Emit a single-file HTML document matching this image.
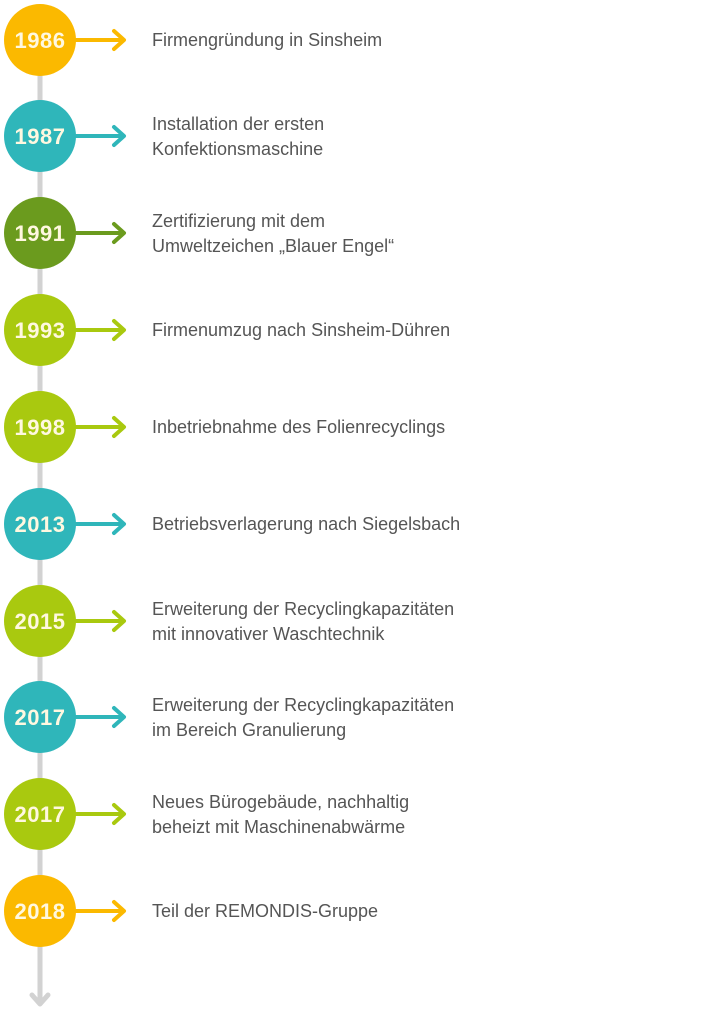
<!DOCTYPE html>
<html><head><meta charset="utf-8"><style>
html,body{margin:0;padding:0;background:#fff;width:710px;height:1010px;overflow:hidden}
svg text{font-family:"Liberation Sans",sans-serif}
.y{font-size:22px;font-weight:bold;fill:#fff8e0;text-anchor:middle;letter-spacing:0.5px}
.t{font-size:18px;fill:#555}
.a{fill:none;stroke-width:4;stroke-linecap:round;stroke-linejoin:round}
</style></head><body>
<svg width="710" height="1010" viewBox="0 0 710 1010" xmlns="http://www.w3.org/2000/svg">
<line x1="40" y1="40" x2="40" y2="1003" stroke="#d2d2d2" stroke-width="5"/>
<polyline points="32,995 40,1004 48,995" fill="none" stroke="#d2d2d2" stroke-width="5" stroke-linecap="round" stroke-linejoin="round"/>

<g transform="translate(0,40)"><circle cx="40" r="36" fill="#fbb900"/><text class="y" x="40" y="8">1986</text><path class="a" stroke="#fbb900" d="M74 0H123M114 -9L124 0L114 9"/><text class="t" x="152" y="6">Firmengründung in Sinsheim</text></g>

<g transform="translate(0,136)"><circle cx="40" r="36" fill="#2fb6ba"/><text class="y" x="40" y="8">1987</text><path class="a" stroke="#2fb6ba" d="M74 0H123M114 -9L124 0L114 9"/><text class="t" x="152" y="-6">Installation der ersten</text><text class="t" x="152" y="19">Konfektionsmaschine</text></g>

<g transform="translate(0,233)"><circle cx="40" r="36" fill="#6b9b1e"/><text class="y" x="40" y="8">1991</text><path class="a" stroke="#6b9b1e" d="M74 0H123M114 -9L124 0L114 9"/><text class="t" x="152" y="-6">Zertifizierung mit dem</text><text class="t" x="152" y="19">Umweltzeichen „Blauer Engel“</text></g>

<g transform="translate(0,330)"><circle cx="40" r="36" fill="#a9c90f"/><text class="y" x="40" y="8">1993</text><path class="a" stroke="#a9c90f" d="M74 0H123M114 -9L124 0L114 9"/><text class="t" x="152" y="6">Firmenumzug nach Sinsheim-Dühren</text></g>

<g transform="translate(0,427)"><circle cx="40" r="36" fill="#a9c90f"/><text class="y" x="40" y="8">1998</text><path class="a" stroke="#a9c90f" d="M74 0H123M114 -9L124 0L114 9"/><text class="t" x="152" y="6">Inbetriebnahme des Folienrecyclings</text></g>

<g transform="translate(0,524)"><circle cx="40" r="36" fill="#2fb6ba"/><text class="y" x="40" y="8">2013</text><path class="a" stroke="#2fb6ba" d="M74 0H123M114 -9L124 0L114 9"/><text class="t" x="152" y="6">Betriebsverlagerung nach Siegelsbach</text></g>

<g transform="translate(0,621)"><circle cx="40" r="36" fill="#a9c90f"/><text class="y" x="40" y="8">2015</text><path class="a" stroke="#a9c90f" d="M74 0H123M114 -9L124 0L114 9"/><text class="t" x="152" y="-6">Erweiterung der Recyclingkapazitäten</text><text class="t" x="152" y="19">mit innovativer Waschtechnik</text></g>

<g transform="translate(0,717)"><circle cx="40" r="36" fill="#2fb6ba"/><text class="y" x="40" y="8">2017</text><path class="a" stroke="#2fb6ba" d="M74 0H123M114 -9L124 0L114 9"/><text class="t" x="152" y="-6">Erweiterung der Recyclingkapazitäten</text><text class="t" x="152" y="19">im Bereich Granulierung</text></g>

<g transform="translate(0,814)"><circle cx="40" r="36" fill="#a9c90f"/><text class="y" x="40" y="8">2017</text><path class="a" stroke="#a9c90f" d="M74 0H123M114 -9L124 0L114 9"/><text class="t" x="152" y="-6">Neues Bürogebäude, nachhaltig</text><text class="t" x="152" y="19">beheizt mit Maschinenabwärme</text></g>

<g transform="translate(0,911)"><circle cx="40" r="36" fill="#fbb900"/><text class="y" x="40" y="8">2018</text><path class="a" stroke="#fbb900" d="M74 0H123M114 -9L124 0L114 9"/><text class="t" x="152" y="6">Teil der REMONDIS-Gruppe</text></g>
</svg>
</body></html>
